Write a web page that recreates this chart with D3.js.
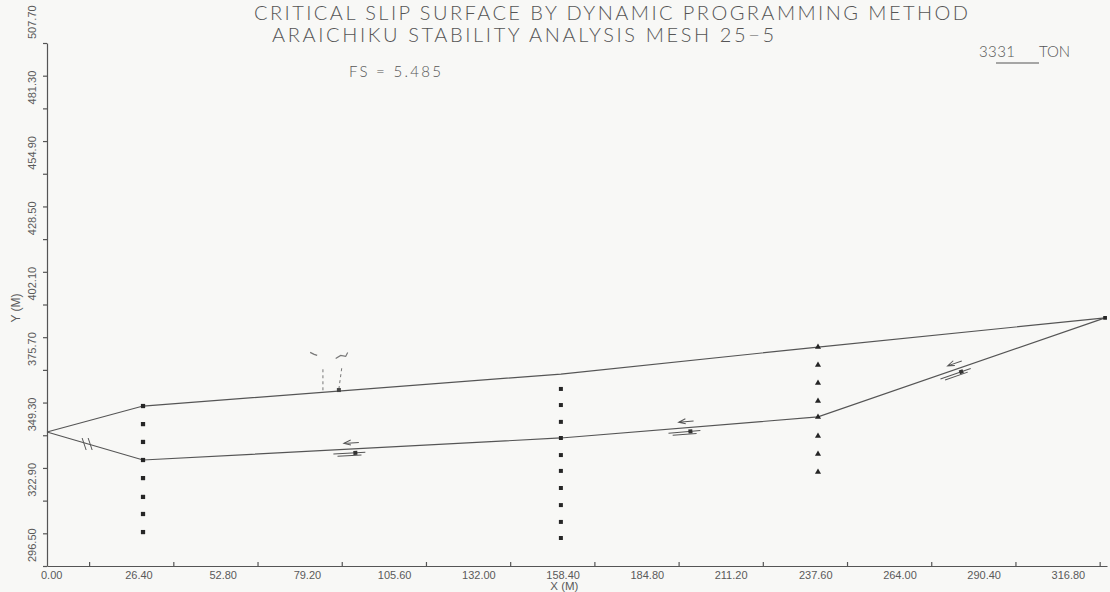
<!DOCTYPE html>
<html>
<head>
<meta charset="utf-8">
<script src="https://cdn.jsdelivr.net/npm/d3@7"></script>
<style>
    body { margin: 0; background: #f8f8f6; }
    svg text { font-family: "Liberation Sans", Arial, sans-serif; fill: #5a5a5a; }
    svg text.title { font-family: Lato, "Liberation Sans", sans-serif; font-weight: 300; fill: #555; }
</style>
</head>
<body>
<svg id="chart" width="1110" height="592"></svg>
<script>
// axis tick labels (major every 26.4 m, minor ticks in between)
const xTickLabels = ["0.00", "26.40", "52.80", "79.20", "105.60", "132.00", "158.40",
    "184.80", "211.20", "237.60", "264.00", "290.40", "316.80"];
const yTickLabels = ["296.50", "322.90", "349.30", "375.70", "402.10", "428.50",
    "454.90", "481.30", "507.70"];

// ground surface (upper line)
const surfaceX = [0, 30.1, 161.1, 241.7, 331.7];
const surfaceY = [350.6, 361.1, 374.0, 384.9, 396.7];

// critical slip surface (lower line)
const slipX = [0, 30.1, 161.1, 241.7, 331.7];
const slipY = [350.6, 339.3, 348.2, 356.7, 396.7];

// mesh node columns
const col1X = 30.1;
const col1Y = [361.1, 353.8, 346.6, 339.3, 332.0, 324.4, 317.5, 310.2];
const col2X = 161.1;
const col2Y = [368.0, 361.5, 354.7, 348.2, 341.3, 334.9, 328.0, 321.1, 314.3, 307.8];
const col3X = 241.7;
const col3Y = [384.9, 377.7, 370.4, 363.1, 356.7, 349.0, 341.7, 334.5];

// slip direction arrows along the slip surface
const arrowX = [96.6, 201.6, 286.2];

const svg = d3.select("#chart");

const x = d3.scaleLinear().domain([0, 332.3]).range([47, 1107]);
const y = d3.scaleLinear().domain([296.5, 507.7]).range([566, 43]);

const ink = "#555";

// x axis
const xMinor = d3.range(0, 13).map(i => 13.2 + 26.4 * i).filter(v => v < 332);
const gx = svg.append("g")
    .attr("transform", `translate(0,${y(296.5)})`)
    .call(d3.axisBottom(x).tickValues(xMinor).tickSize(-4).tickSizeOuter(0).tickFormat(""));
gx.selectAll("path, line").attr("stroke", ink).attr("stroke-width", 1.2);

svg.append("g").selectAll("text")
    .data(xTickLabels)
    .join("text")
    .attr("x", (d, i) => x(26.4 * i) - 6)
    .attr("y", 579)
    .attr("font-size", 11)
    .text(d => d);

svg.append("text")
    .attr("x", x(158.4) - 2)
    .attr("y", 590)
    .attr("font-size", 11.5)
    .text("X (M)");

// y axis
const yAll = d3.range(0, 17).map(i => 296.5 + 13.2 * i);
const gy = svg.append("g")
    .attr("transform", `translate(${x(0)},0)`)
    .call(d3.axisLeft(y).tickValues(yAll).tickSize(4).tickSizeOuter(0).tickFormat(""));
gy.selectAll("path, line").attr("stroke", ink).attr("stroke-width", 1.2);

svg.append("g").selectAll("text")
    .data(yTickLabels)
    .join("text")
    .attr("transform", (d, i) => `translate(36,${y(296.5 + 26.4 * i) - 4}) rotate(-90)`)
    .attr("font-size", 11)
    .text(d => d);

svg.append("text")
    .attr("transform", `translate(20,308) rotate(-90)`)
    .attr("text-anchor", "middle")
    .attr("font-size", 12)
    .text("Y (M)");

// titles
svg.append("text")
    .attr("class", "title")
    .attr("x", 254).attr("y", 20)
    .attr("font-size", 20)
    .attr("textLength", 714).attr("lengthAdjust", "spacing")
    .text("CRITICAL SLIP SURFACE BY DYNAMIC PROGRAMMING METHOD");
svg.append("text")
    .attr("class", "title")
    .attr("x", 272).attr("y", 42)
    .attr("font-size", 20)
    .attr("textLength", 502).attr("lengthAdjust", "spacing")
    .text("ARAICHIKU STABILITY ANALYSIS MESH 25\u22125");
svg.append("text")
    .attr("class", "title")
    .attr("x", 349).attr("y", 77)
    .attr("font-size", 15)
    .attr("textLength", 92).attr("lengthAdjust", "spacing")
    .text("FS =  5.485");
svg.append("text")
    .attr("class", "title")
    .attr("x", 979).attr("y", 57)
    .attr("font-size", 15)
    .attr("textLength", 36).attr("lengthAdjust", "spacing")
    .text("3331");
svg.append("text")
    .attr("class", "title")
    .attr("x", 1039).attr("y", 57)
    .attr("font-size", 15)
    .attr("textLength", 31).attr("lengthAdjust", "spacing")
    .text("TON");
svg.append("line")
    .attr("x1", 996).attr("x2", 1039).attr("y1", 63).attr("y2", 63)
    .attr("stroke", ink).attr("stroke-width", 1.2);

// surface lines
const line = d3.line().x(d => x(d[0])).y(d => y(d[1]));

svg.append("path")
    .datum(surfaceX.map((v, i) => [v, surfaceY[i]]))
    .attr("d", line)
    .attr("fill", "none")
    .attr("stroke", ink)
    .attr("stroke-width", 1.2);

svg.append("path")
    .datum(slipX.map((v, i) => [v, slipY[i]]))
    .attr("d", line)
    .attr("fill", "none")
    .attr("stroke", ink)
    .attr("stroke-width", 1.2);

// node markers
const nodes = [
    { x: col1X, ys: col1Y, sym: d3.symbolSquare, size: 18 },
    { x: col2X, ys: col2Y, sym: d3.symbolSquare, size: 16 },
    { x: col3X, ys: col3Y, sym: d3.symbolTriangle, size: 16 }
];
nodes.forEach(col => {
    svg.append("g").selectAll("path")
        .data(col.ys)
        .join("path")
        .attr("transform", d => `translate(${x(col.x)},${y(d)})`)
        .attr("d", d3.symbol().type(col.sym).size(col.size))
        .attr("fill", "#262626");
});
svg.append("path")
    .attr("transform", `translate(${x(331.7)},${y(396.7)})`)
    .attr("d", d3.symbol().type(d3.symbolSquare).size(14))
    .attr("fill", "#262626");

// slip direction arrows
const slipAt = d3.scaleLinear().domain(slipX).range(slipY);
arrowX.forEach(v => {
    const px = x(v), py = y(slipAt(v));
    const dx = x(v + 5) - x(v - 5), dy = y(slipAt(v + 5)) - y(slipAt(v - 5));
    const ang = Math.atan2(dy, dx) * 180 / Math.PI;
    const g = svg.append("g").attr("transform", `translate(${px},${py}) rotate(${ang})`);
    g.append("path")
        .attr("d", "M-22,4 L10,4 M-18,6.5 L6,6.5")
        .attr("stroke", ink).attr("stroke-width", 1).attr("fill", "none");
    g.append("path")
        .attr("d", "M-4,-9 L-11,-6 L-4,-4 M-11,-6 L4,-6")
        .attr("stroke", ink).attr("stroke-width", 1).attr("fill", "none");
    g.append("rect").attr("x", -2).attr("y", 2).attr("width", 4).attr("height", 4).attr("fill", "#333");
});

// hatch marks on the left slip segment
const hx = 12.9, hy = slipAt(12.9);
svg.append("path")
    .attr("transform", `translate(${x(hx)},${y(hy)})`)
    .attr("d", "M-6,-6 L-2,6 M0,-6 L4,6")
    .attr("stroke", ink).attr("stroke-width", 1).attr("fill", "none");

// pen marks near the ground surface
const surfAt = d3.scaleLinear().domain(surfaceX).range(surfaceY);
[86.5, 91.5].forEach((v, i) => {
    const px = x(v), py = y(surfAt(v));
    svg.append("line")
        .attr("x1", px).attr("x2", px + (i ? 3 : 0))
        .attr("y1", py - 2).attr("y2", py - 24)
        .attr("stroke", "#777").attr("stroke-width", 1)
        .attr("stroke-dasharray", "3,3");
});
svg.append("path")
    .attr("d", `M${x(82.5)},${y(surfAt(86)) - 40} l4,2 l3,1 M${x(90.5)},${y(surfAt(90)) - 33} l5,-3 l5,1 l2,-4`)
    .attr("stroke", "#777").attr("stroke-width", 1.2).attr("fill", "none");
svg.append("rect")
    .attr("x", x(91.5) - 2).attr("y", y(surfAt(91.5)) - 3)
    .attr("width", 4).attr("height", 4).attr("fill", "#444");
</script>
</body>
</html>
